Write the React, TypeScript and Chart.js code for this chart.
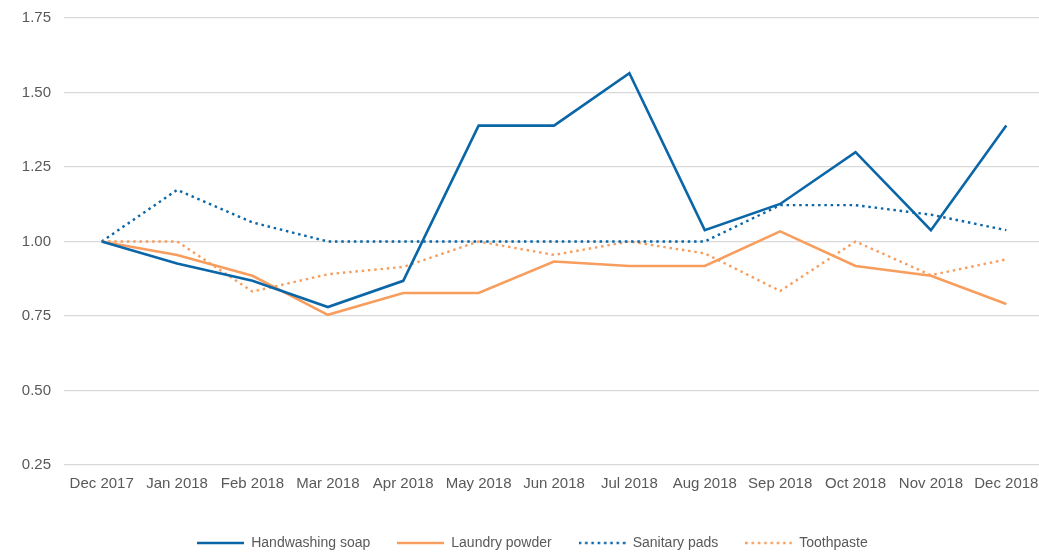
import React, { useEffect, useRef } from "react";
import { Chart, registerables } from "chart.js";

Chart.register(...registerables);

const categories = [
  "Dec 2017", "Jan 2018", "Feb 2018", "Mar 2018", "Apr 2018", "May 2018", "Jun 2018",
  "Jul 2018", "Aug 2018", "Sep 2018", "Oct 2018", "Nov 2018", "Dec 2018",
];
const handwashingSoap = [1.0, 0.926, 0.868, 0.78, 0.868, 1.389, 1.389, 1.565, 1.038, 1.126, 1.30, 1.038, 1.389];
const laundryPowder = [1.0, 0.955, 0.885, 0.754, 0.827, 0.827, 0.933, 0.918, 0.918, 1.034, 0.918, 0.885, 0.79];
const sanitaryPads = [1.0, 1.173, 1.064, 1.0, 1.0, 1.0, 1.0, 1.0, 1.0, 1.122, 1.122, 1.09, 1.038];
const toothpaste = [1.0, 1.0, 0.832, 0.89, 0.915, 1.0, 0.955, 1.0, 0.96, 0.834, 1.0, 0.887, 0.94];
const yTicks = [0.25, 0.5, 0.75, 1.0, 1.25, 1.5, 1.75];

const BLUE = "#0B66A8";
const ORANGE = "#F79E5E";
const TEXT = "#595959";
const FONT = "'Liberation Sans', Arial, sans-serif";
const DOTTED = [2.5, 3.8];

function swatch(color: string, dash: number[], width: number): HTMLCanvasElement {
  const c = document.createElement("canvas");
  c.width = 47;
  c.height = 6;
  const ctx = c.getContext("2d")!;
  ctx.strokeStyle = color;
  ctx.lineWidth = width;
  ctx.setLineDash(dash);
  ctx.beginPath();
  ctx.moveTo(0, 3);
  ctx.lineTo(47, 3);
  ctx.stroke();
  return c;
}

export default function App() {
  const ref = useRef<HTMLCanvasElement | null>(null);

  useEffect(() => {
    if (!ref.current) return;
    const chart = new Chart(ref.current, {
      type: "line",
      data: {
        labels: categories,
        datasets: [
          { label: "Handwashing soap", data: handwashingSoap, borderColor: BLUE, backgroundColor: BLUE, borderWidth: 2.6, pointRadius: 0, tension: 0, pointStyle: swatch(BLUE, [], 2.6) },
          { label: "Laundry powder", data: laundryPowder, borderColor: ORANGE, backgroundColor: ORANGE, borderWidth: 2.6, pointRadius: 0, tension: 0, pointStyle: swatch(ORANGE, [], 2.6) },
          { label: "Sanitary pads", data: sanitaryPads, borderColor: BLUE, backgroundColor: BLUE, borderWidth: 2.4, borderDash: DOTTED, pointRadius: 0, tension: 0, pointStyle: swatch(BLUE, DOTTED, 2.4) },
          { label: "Toothpaste", data: toothpaste, borderColor: ORANGE, backgroundColor: ORANGE, borderWidth: 2.4, borderDash: DOTTED, pointRadius: 0, tension: 0, pointStyle: swatch(ORANGE, DOTTED, 2.4) },
        ],
      },
      options: {
        animation: false,
        responsive: false,
        maintainAspectRatio: false,
        layout: { padding: { left: 21, top: 18, right: 0, bottom: 0 } },
        plugins: {
          tooltip: { enabled: false },
          legend: {
            display: true,
            position: "bottom",
            labels: {
              usePointStyle: true,
              pointStyleWidth: 47,
              padding: 27,
              color: TEXT,
              font: { family: FONT, size: 14 },
            },
          },
        },
        scales: {
          x: {
            offset: true,
            grid: { display: false, drawTicks: false },
            border: { display: false },
            ticks: { color: TEXT, font: { family: FONT, size: 15 }, padding: 10, maxRotation: 0, autoSkip: false },
            afterFit: (scale: any) => {
              scale.height = 44;
              scale.paddingLeft = 0;
              scale.paddingRight = 0;
            },
          },
          y: {
            min: 0.25,
            max: 1.75,
            afterBuildTicks: (scale: any) => { scale.ticks = yTicks.map((v) => ({ value: v })); },
            grid: { color: "#D9D9D9", lineWidth: 1.3, drawTicks: false },
            border: { display: false },
            ticks: {
              color: TEXT,
              font: { family: FONT, size: 15 },
              padding: 13,
              callback: (v: any) => Number(v).toFixed(2),
            },
            afterFit: (scale: any) => {
              scale.width = 43;
              scale.paddingTop = 0;
              scale.paddingBottom = 0;
            },
          },
        },
      },
    });
    return () => chart.destroy();
  }, []);

  return (
    <div style={{ position: "fixed", left: 0, top: 0, width: 1039, height: 553, overflow: "hidden", background: "#fff" }}>
      <canvas ref={ref} width={1044} height={560} style={{ display: "block", width: 1044, height: 560 }} />
    </div>
  );
}
